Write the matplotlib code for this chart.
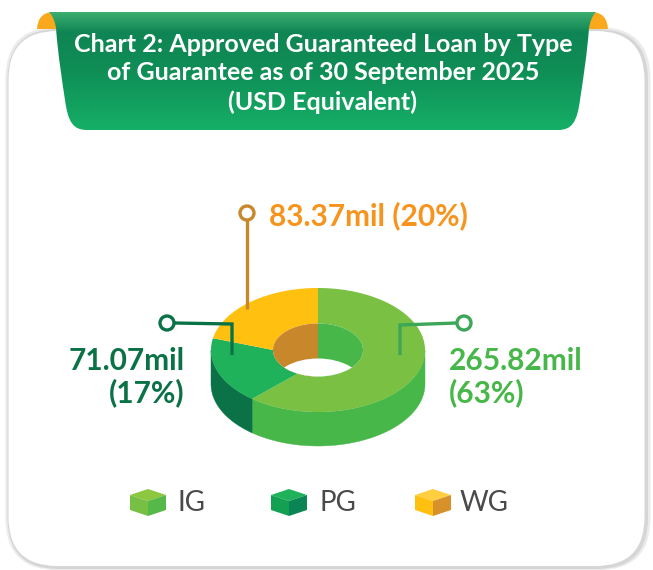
import numpy as np
import matplotlib
matplotlib.use("Agg")
import matplotlib.pyplot as plt
from matplotlib.patches import Polygon, FancyBboxPatch, Ellipse, Circle, PathPatch
from matplotlib.path import Path
from matplotlib.colors import LinearSegmentedColormap

title_lines = ["Chart 2: Approved Guaranteed Loan by Type",
               "of Guarantee as of 30 September 2025",
               "(USD Equivalent)"]
categories = ["IG", "PG", "WG"]
values = [265.82, 71.07, 83.37]
value_labels = ["265.82mil\n(63%)", "71.07mil\n(17%)", "83.37mil (20%)"]

TOP = {"IG": "#7AC143", "PG": "#1FB25A", "WG": "#FFC010"}
SIDE = {"IG": "#47B74A", "PG": "#0B7247", "WG": "#C8872A"}
LABEL = {"IG": "#47B74A", "PG": "#0B7247", "WG": "#F7941D"}
CUBE = {"IG": ("#8DC63F", "#78C043", "#55B848"),
        "PG": ("#1FB25A", "#13A052", "#0A8553"),
        "WG": ("#FFCF40", "#FFC010", "#D6912A")}
FONT = "Lato"

fig = plt.figure(figsize=(6.53, 5.70), dpi=100)
ax = fig.add_axes([0, 0, 1, 1])
ax.set_xlim(0, 653); ax.set_ylim(570, 0); ax.axis("off")


def card(x0, y0, x1, y1, r, col, z=1):
    ax.add_patch(FancyBboxPatch((x0 + r, y0 + r), x1 - x0 - 2 * r, y1 - y0 - 2 * r,
                                boxstyle=f"round,pad={r},rounding_size={r}", fc=col, ec="none", zorder=z))


card(5.5, 27, 650.5, 570, 52, "#EBEBEB")
card(7.5, 29, 648, 569, 51, "#D6D6D6")
card(8.5, 31, 644.5, 566, 49, "white")

# ears
ear_codes = [Path.MOVETO, Path.CURVE3, Path.CURVE3, Path.LINETO, Path.LINETO, Path.CLOSEPOLY]
for v in ([(37, 29), (38, 13), (52, 12), (62, 12), (62, 29), (37, 29)],
          [(608, 29), (607, 13), (593, 12), (583, 12), (583, 29), (608, 29)]):
    ax.add_patch(PathPatch(Path(v, ear_codes), fc="#F9A91B", ec="none", zorder=2))

# banner
C4, L = Path.CURVE4, Path.LINETO
verts = [(49, 12), (596, 12),
         (592, 16), (590, 22), (589, 28),
         (587, 55), (583, 80), (580, 100),
         (577, 122), (572, 130), (558, 130),
         (87, 130),
         (73, 130), (68, 122), (65, 100),
         (62, 80), (58, 55), (56, 28),
         (55, 22), (53, 16), (49, 12),
         (49, 12)]
codes = [Path.MOVETO, L, C4, C4, C4, C4, C4, C4, C4, C4, C4, L, C4, C4, C4, C4, C4, C4, C4, C4, C4, Path.CLOSEPOLY]
banner = PathPatch(Path(verts, codes), fc="none", ec="none", zorder=3)
ax.add_patch(banner)
cmap = LinearSegmentedColormap.from_list("b", [(0, "#3DAE70"), (0.17, "#0F8554"), (0.5, "#0F8E56"), (1, "#15AF67")])
im = ax.imshow(np.linspace(0, 1, 200)[:, None], extent=(40, 610, 130, 12), cmap=cmap, aspect="auto", zorder=3)
im.set_clip_path(banner)
ax.set_xlim(0, 653); ax.set_ylim(570, 0)
for line, y in zip(title_lines, [44.5, 73, 102]):
    ax.text(323, y, line, color="white", fontsize=18, fontweight="bold", family=FONT,
            ha="center", va="center", zorder=4)

# donut geometry
cx, cy, rx, ry, depth = 318, 350, 107, 62, 34
hrx, hry = 45, 26.5
hdepth = 35


def warp(theta, a1, a2):
    # the illustration's 3D projection bends the angles of the ring
    t = np.radians(theta)
    return theta + a1 * np.sin(t) + a2 * np.sin(2 * t)


def outer(theta):
    t = np.radians(warp(theta, 9.66, -2.57))
    return cx + rx * np.sin(t), cy - ry * np.cos(t)


def inner(theta):
    t = np.radians(warp(theta, 22.3, -4.21))
    return cx + hrx * np.sin(t), cy - hry * np.cos(t)


shares = np.array(values) / np.sum(values) * 360
ends = np.cumsum(shares)
starts = ends - shares

# outer side walls (front half only)
for cat, a, b in zip(categories, starts, ends):
    ts = np.linspace(a, b, 300)
    ox, oy = outer(ts)
    w = np.radians(warp(ts, 9.66, -2.57))
    keep = (w >= np.pi / 2) & (w <= 3 * np.pi / 2)
    if keep.sum() < 2:
        continue
    ox, oy = ox[keep], oy[keep]
    poly = np.r_[np.c_[ox, oy], np.c_[ox[::-1], oy[::-1] + depth]]
    ax.add_patch(Polygon(poly, fc=SIDE[cat], ec=SIDE[cat], lw=0.3, zorder=5))

# top faces
for cat, a, b in zip(categories, starts, ends):
    ts = np.linspace(a, b, 300)
    ox, oy = outer(ts)
    ix, iy = inner(ts[::-1])
    ax.add_patch(Polygon(np.r_[np.c_[ox, oy], np.c_[ix, iy]], fc=TOP[cat], ec="none", zorder=6))

# hole: inner wall and floor
hole = Ellipse((cx, cy), 2 * hrx, 2 * hry, fc="none", ec="none", zorder=7)
ax.add_patch(hole)
tt = np.radians(np.linspace(0, 180, 100))
for sign, col in [(1, SIDE["IG"]), (-1, SIDE["WG"])]:
    half = np.c_[cx + sign * hrx * np.sin(tt), cy - hry * np.cos(tt)]
    ax.add_patch(Polygon(half, fc=col, ec="none", zorder=7))
floor = Ellipse((cx, cy + hdepth), 2 * hrx, 2 * hry, fc="white", ec="none", zorder=8)
ax.add_patch(floor)
floor.set_clip_path(hole)

# callouts
lead = [("WG", [(247, 220), (247, 309)], (247, 213), "#C8872A"),
        ("PG", [(174, 323), (232, 324), (232, 355)], (167, 323), "#0B7247"),
        ("IG", [(457, 323), (400, 325), (400, 355)], (464, 323), "#3BA757")]
for cat, pts, c, col in lead:
    xs, ys = zip(*pts)
    ax.plot(xs, ys, color=col, lw=2.4, zorder=9, solid_joinstyle="miter", solid_capstyle="butt")
    ax.add_patch(Circle(c, 7, fc="white", ec=col, lw=2.4, zorder=10))

label_fs = 21.5
ax.text(269, 216, value_labels[2], color=LABEL["WG"], fontsize=label_fs, fontweight="bold", family=FONT,
        ha="left", va="center", zorder=10)
ax.text(185, 377, value_labels[1], color=LABEL["PG"], fontsize=label_fs, fontweight="bold", family=FONT,
        ha="right", va="center", linespacing=1.14, zorder=10)
ax.text(449, 377, value_labels[0], color=LABEL["IG"], fontsize=label_fs, fontweight="bold", family=FONT,
        ha="left", va="center", linespacing=1.14, zorder=10)

# legend cubes
for cat, x0, tx in zip(categories, [130, 271, 415], [177, 320, 460]):
    top, left, right = CUBE[cat]
    w, mid = 36, 18
    ax.add_patch(Polygon([(x0, 495), (x0 + mid, 489), (x0 + w, 495), (x0 + mid, 501)], fc=top, ec="none", zorder=5))
    ax.add_patch(Polygon([(x0, 495), (x0 + mid, 501), (x0 + mid, 516), (x0, 510)], fc=left, ec="none", zorder=5))
    ax.add_patch(Polygon([(x0 + w, 495), (x0 + mid, 501), (x0 + mid, 516), (x0 + w, 510)], fc=right, ec="none", zorder=5))
    ax.text(tx, 503, cat, color="#4A4A4A", fontsize=20, family=FONT, ha="left", va="center", zorder=5)

fig.savefig("out.png", dpi=100)
